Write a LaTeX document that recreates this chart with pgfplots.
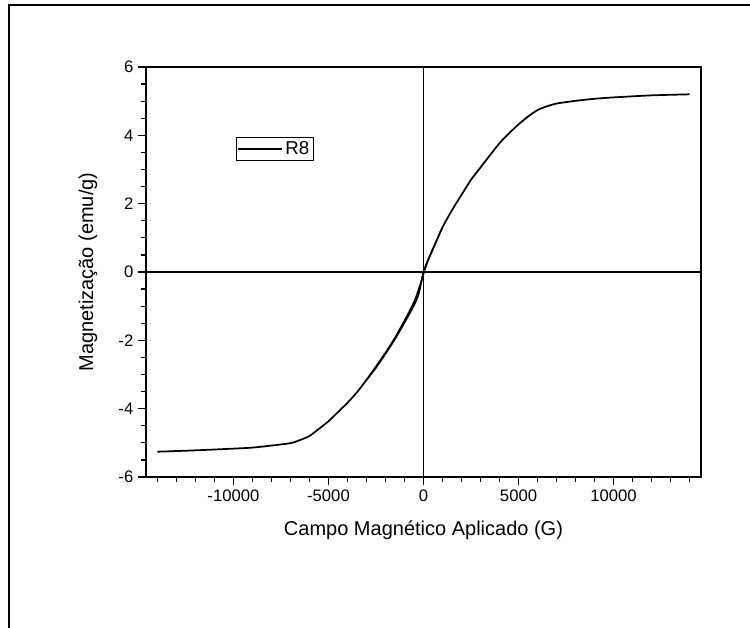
\documentclass[border=0pt]{standalone}
\usepackage{pgfplots}
\pgfplotsset{compat=1.18}
\usepackage{fontspec}
\setmainfont{Liberation Sans}
\begin{document}
\begin{tikzpicture}
\begin{axis}[
  name=ax,
  scale only axis,
  width=416.25pt, height=307.5pt,
  xmin=-14600, xmax=14600,
  ymin=-6, ymax=6,
  scaled ticks=false,
  xtick={-10000,-5000,0,5000,10000},
  ytick={-6,-4,-2,0,2,4,6},
  minor xtick={-14000,-13000,...,14000},
  minor ytick={-5.5,-5,...,5.5},
  xtick pos=bottom, ytick pos=left,
  tick align=outside,
  major tick length=6pt, minor tick length=3.75pt,
  every tick/.style={black, line width=0.9pt},
  axis line style={line width=1.1pt},
  /pgf/number format/1000 sep={},
  /pgf/number format/assume math mode=true,
  tick label style={font=\fontsize{12.5}{14}\selectfont},
  label style={font=\fontsize{15}{18}\selectfont},
  xlabel={Campo Magnético Aplicado (G)},
  ylabel={Magnetização (emu/g)},
  xlabel style={at={(axis description cs:0.5,-0.129)}, anchor=center},
  ylabel style={at={(axis description cs:-0.1045,0.5)}, anchor=center},
  legend style={at={(rel axis cs:0.162,0.829)}, anchor=north west, draw=black, line width=0.6pt,
    font=\fontsize{14}{16}\selectfont, inner sep=1pt},
  legend cell align=left,
  legend image code/.code={\draw[#1, line width=0.8pt] (0pt,0pt) -- (33pt,0pt);},
]
\addplot[forget plot, black, line width=1pt] coordinates {(0,-6) (0,6)};
\addplot[forget plot, black, line width=1pt] coordinates {(-14600,0) (14600,0)};
\addplot[black, line width=1.3pt, smooth, tension=0.35] coordinates {
(-14000,-5.26) (-12000,-5.22) (-10000,-5.17) (-9000,-5.14) (-8000,-5.08)
(-7000,-5.01) (-6500,-4.92) (-6000,-4.80) (-5500,-4.59) (-5000,-4.37)
(-4500,-4.10) (-4000,-3.83) (-3500,-3.52) (-3000,-3.16) (-2500,-2.80)
(-2000,-2.39) (-1500,-1.96) (-1000,-1.48) (-500,-0.97) (-250,-0.63)
(0,0.0) (250,0.36) (500,0.68) (1000,1.31) (1500,1.81) (2000,2.26)
(2500,2.70) (3000,3.06) (3500,3.42) (4000,3.77) (4500,4.06) (5000,4.32)
(5500,4.55) (6000,4.74) (6500,4.85) (7000,4.93) (8000,5.01) (9000,5.07)
(10000,5.11) (12000,5.17) (14000,5.20)
};
\addlegendentry{R8}
\addplot[forget plot, black, line width=1.1pt, smooth, tension=0.35] coordinates {
(-3000,-3.16) (-2000,-2.36) (-1500,-1.92) (-1000,-1.42) (-500,-0.88)
(-250,-0.50) (0,-0.06) (250,0.36) (500,0.68) (1000,1.31)
};
\end{axis}
\draw[line width=2pt] ([shift={(-102.75pt,-140pt)}]ax.south west) -- ([shift={(-102.75pt,354pt)}]ax.south west) -- ([shift={(480pt,354pt)}]ax.south west);
\pgfresetboundingbox
\useasboundingbox ([shift={(-109.5pt,-113.25pt)}]ax.south west) rectangle ([shift={(453pt,357.75pt)}]ax.south west);
\end{tikzpicture}
\end{document}
